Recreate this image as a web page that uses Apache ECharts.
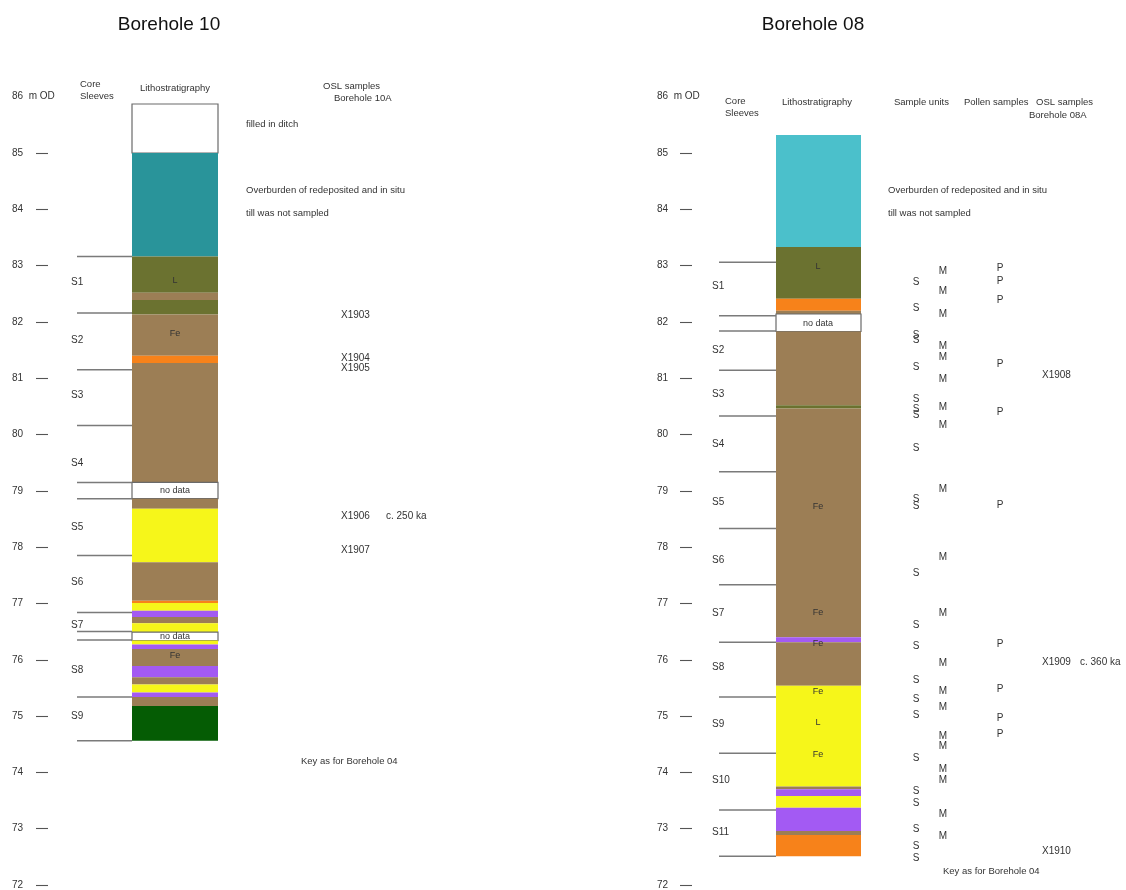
<!DOCTYPE html>
<html>
<head>
<meta charset="utf-8">
<script src="https://cdn.jsdelivr.net/npm/echarts@6/dist/echarts.min.js"></script>
<style>
html, body { margin: 0; padding: 0; background: #ffffff; }
#chart { width: 1126px; height: 890px; }
</style>
</head>
<body>
<div id="chart"></div>
<script>
// ---- Depth scale (m OD) ----
const tickDepths = [72, 73, 74, 75, 76, 77, 78, 79, 80, 81, 82, 83, 84, 85];
const labelDepths = [72, 73, 74, 75, 76, 77, 78, 79, 80, 81, 82, 83, 84, 85, 86];

// ---- Borehole 10: lithostratigraphy (top / base in m OD) ----
const bh10Top  = [85.87, 85.00, 83.16, 82.52, 82.39, 82.13, 81.40, 81.27, 79.15, 78.86, 78.68, 77.73, 77.05, 77.01, 76.87, 76.76, 76.65, 76.49, 76.34, 76.27, 76.19, 75.89, 75.69, 75.56, 75.42, 75.34, 75.18];
const bh10Base = [85.00, 83.16, 82.52, 82.39, 82.13, 81.40, 81.27, 79.15, 78.86, 78.68, 77.73, 77.05, 77.01, 76.87, 76.76, 76.65, 76.49, 76.34, 76.27, 76.19, 75.89, 75.69, 75.56, 75.42, 75.34, 75.18, 74.56];
const bh10Unit = ['blank', 'teal', 'olive', 'brown', 'olive', 'brown', 'orange', 'brown', 'blank', 'brown', 'yellow', 'brown', 'orange', 'yellow', 'violet', 'brown', 'yellow', 'blank', 'yellow', 'violet', 'brown', 'violet', 'brown', 'yellow', 'violet', 'brown', 'green'];
const bh10LithText  = ['L', 'Fe', 'no data', 'no data', 'Fe'];
const bh10LithDepth = [82.74, 81.80, 79.00, 76.42, 76.07];

// core sleeve boundaries and names
const bh10Sleeves = [83.16, 82.16, 81.15, 80.16, 79.15, 78.86, 77.85, 76.84, 76.50, 76.35, 75.34, 74.56];
const bh10SleeveNames = ['S1', 'S2', 'S3', 'S4', 'S5', 'S6', 'S7', 'S8', 'S9'];
const bh10SleeveDepth = [82.70, 81.67, 80.69, 79.49, 78.35, 77.38, 76.62, 75.82, 74.99];

// OSL samples, Borehole 10A
const bh10Osl = ['X1903', 'X1904', 'X1905', 'X1906', 'X1907'];
const bh10OslDepth = [82.11, 81.36, 81.18, 78.55, 77.95];
const bh10Age = ['c. 250 ka'];
const bh10AgeDepth = [78.55];

// notes
const bh10Notes = ['filled in ditch', 'Overburden of redeposited and in situ', 'till was not sampled'];
const bh10NoteDepth = [85.50, 84.34, 83.93];
const bh10Key = ['Key as for Borehole 04'];
const bh10KeyDepth = [74.20];

// ---- Borehole 08: lithostratigraphy ----
const bh08Top  = [85.32, 83.33, 82.41, 82.20, 82.14, 81.83, 80.52, 80.46, 76.40, 76.31, 75.54, 73.75, 73.70, 73.58, 73.37, 72.96, 72.89];
const bh08Base = [83.33, 82.41, 82.20, 82.14, 81.83, 80.52, 80.46, 76.40, 76.31, 75.54, 73.75, 73.70, 73.58, 73.37, 72.96, 72.89, 72.51];
const bh08Unit = ['cyan', 'olive', 'orange', 'brown', 'blank', 'brown', 'olive', 'brown', 'violet', 'brown', 'yellow', 'brown', 'violet', 'yellow', 'violet', 'brown', 'orange'];
const bh08LithText  = ['L', 'no data', 'Fe', 'Fe', 'Fe', 'Fe', 'L', 'Fe'];
const bh08LithDepth = [82.99, 81.98, 78.73, 76.84, 76.28, 75.43, 74.89, 74.31];

const bh08Sleeves = [83.06, 82.11, 81.84, 81.14, 80.33, 79.34, 78.33, 77.33, 76.31, 75.34, 74.34, 73.33, 72.51];
const bh08SleeveNames = ['S1', 'S2', 'S3', 'S4', 'S5', 'S6', 'S7', 'S8', 'S9', 'S10', 'S11'];
const bh08SleeveDepth = [82.63, 81.49, 80.72, 79.83, 78.80, 77.76, 76.83, 75.87, 74.86, 73.86, 72.93];

// sample units (S, M) and pollen samples (P)
const bh08SDepth = [82.70, 82.24, 81.77, 81.68, 81.20, 80.62, 80.44, 80.35, 79.76, 78.85, 78.72, 77.53, 76.61, 76.24, 75.63, 75.30, 75.01, 74.25, 73.66, 73.45, 72.99, 72.69, 72.48];
const bh08MDepth = [82.90, 82.54, 82.14, 81.57, 81.38, 80.98, 80.49, 80.17, 79.03, 77.82, 76.82, 75.93, 75.44, 75.16, 74.64, 74.47, 74.05, 73.86, 73.25, 72.86];
const bh08PDepth = [82.95, 82.72, 82.38, 81.24, 80.39, 78.75, 76.27, 75.47, 74.97, 74.67];

// OSL samples, Borehole 08A
const bh08Osl = ['X1908', 'X1909', 'X1910'];
const bh08OslDepth = [81.06, 75.95, 72.60];
const bh08Age = ['c. 360 ka'];
const bh08AgeDepth = [75.95];

const bh08Notes = ['Overburden of redeposited and in situ', 'till was not sampled'];
const bh08NoteDepth = [84.34, 83.93];
const bh08Key = ['Key as for Borehole 04'];
const bh08KeyDepth = [72.24];

// ---- styling ----
const FONT = '"Liberation Sans", Arial, sans-serif';
const TEXT_COLOR = '#333333';
const unitColor = {
  blank: '#ffffff',
  teal: '#29949a',
  cyan: '#4bc0cb',
  olive: '#6b7230',
  brown: '#9c7e55',
  orange: '#f7821a',
  yellow: '#f6f61a',
  violet: '#a35af3',
  green: '#055c04'
};

const chart = echarts.init(document.getElementById('chart'), null, { renderer: 'canvas' });

function layerSeries(panel, tops, bases, units, x0, x1) {
  return {
    type: 'custom', xAxisIndex: panel, yAxisIndex: panel, silent: true, z: 2,
    data: tops.map((t, i) => [t, bases[i], i]),
    renderItem: (params, api) => {
      const unit = units[api.value(2)];
      const a = api.coord([x0, api.value(0)]);
      const b = api.coord([x1, api.value(1)]);
      const boxed = unit === 'blank';
      return {
        type: 'rect',
        shape: { x: a[0], y: a[1], width: b[0] - a[0], height: b[1] - a[1] },
        style: { fill: unitColor[unit], stroke: boxed ? '#6a6a6a' : null, lineWidth: boxed ? 1.2 : 0 }
      };
    }
  };
}

function lineSeries(panel, depths, x0, x1) {
  return {
    type: 'custom', xAxisIndex: panel, yAxisIndex: panel, silent: true, z: 3,
    data: depths.map(d => [d]),
    renderItem: (params, api) => {
      const a = api.coord([x0, api.value(0)]);
      const b = api.coord([x1, api.value(0)]);
      return {
        type: 'line',
        shape: { x1: a[0], y1: a[1], x2: b[0], y2: b[1] },
        style: { stroke: '#7a7a7a', lineWidth: 1.5 }
      };
    }
  };
}

function textSeries(panel, texts, depths, x, align, size, color) {
  return {
    type: 'custom', xAxisIndex: panel, yAxisIndex: panel, silent: true, z: 5,
    data: depths.map((d, i) => [d, i]),
    renderItem: (params, api) => {
      const p = api.coord([x, api.value(0)]);
      return {
        type: 'text', x: p[0], y: p[1],
        style: {
          text: texts.length === 1 ? texts[0] : texts[api.value(1)],
          fill: color || TEXT_COLOR, fontSize: size || 9.5, fontFamily: FONT,
          align: align, verticalAlign: 'middle'
        }
      };
    }
  };
}

function depthAxis(panel, margin) {
  return {
    type: 'value', gridIndex: panel, min: 72, max: 86, interval: 1,
    axisLine: { show: false },
    splitLine: { show: false },
    axisTick: {
      show: true, length: 12, inside: false, customValues: tickDepths,
      lineStyle: { color: '#555555', width: 1.1 }
    },
    axisLabel: {
      show: true, customValues: labelDepths, align: 'left', margin: margin,
      fontSize: 10, fontFamily: FONT, color: TEXT_COLOR,
      formatter: v => (v === 86 ? '86  m OD' : String(v))
    }
  };
}

function header(text, x, y, align) {
  return {
    type: 'text', x: x, y: y, silent: true,
    style: { text: text, fill: TEXT_COLOR, fontSize: 9.5, fontFamily: FONT, align: align || 'left', verticalAlign: 'middle' }
  };
}

const option = {
  backgroundColor: '#ffffff',
  animation: false,
  title: [
    { text: 'Borehole 10', left: 164, top: 10, textAlign: 'center',
      textStyle: { fontSize: 19, fontWeight: 'normal', color: '#111111', fontFamily: FONT } },
    { text: 'Borehole 08', left: 808, top: 10, textAlign: 'center',
      textStyle: { fontSize: 19, fontWeight: 'normal', color: '#111111', fontFamily: FONT } }
  ],
  grid: [
    { left: 48, top: 96.67, width: 512, height: 788.67 },
    { left: 692, top: 96.67, width: 434, height: 788.67 }
  ],
  xAxis: [
    { type: 'value', gridIndex: 0, min: 48, max: 560, show: false },
    { type: 'value', gridIndex: 1, min: 692, max: 1126, show: false }
  ],
  yAxis: [depthAxis(0, 36), depthAxis(1, 35)],
  graphic: [
    header('Core', 80, 84),
    header('Sleeves', 80, 96),
    header('Lithostratigraphy', 175, 88, 'center'),
    header('OSL samples', 323, 86),
    header('Borehole 10A', 334, 98),
    header('Core', 725, 101),
    header('Sleeves', 725, 113),
    header('Lithostratigraphy', 817, 102, 'center'),
    header('Sample units', 894, 102),
    header('Pollen samples', 964, 102),
    header('OSL samples', 1036, 102),
    header('Borehole 08A', 1029, 115)
  ],
  series: [
    // Borehole 10
    layerSeries(0, bh10Top, bh10Base, bh10Unit, 132, 218),
    lineSeries(0, bh10Sleeves, 77, 132),
    textSeries(0, bh10SleeveNames, bh10SleeveDepth, 71, 'left', 10),
    textSeries(0, bh10LithText, bh10LithDepth, 175, 'center', 9),
    textSeries(0, bh10Osl, bh10OslDepth, 341, 'left', 10),
    textSeries(0, bh10Age, bh10AgeDepth, 386, 'left', 10),
    textSeries(0, bh10Notes, bh10NoteDepth, 246, 'left', 9.5),
    textSeries(0, bh10Key, bh10KeyDepth, 301, 'left', 9.5),
    // Borehole 08
    layerSeries(1, bh08Top, bh08Base, bh08Unit, 776, 861),
    lineSeries(1, bh08Sleeves, 719, 776),
    textSeries(1, bh08SleeveNames, bh08SleeveDepth, 712, 'left', 10),
    textSeries(1, bh08LithText, bh08LithDepth, 818, 'center', 9),
    textSeries(1, ['S'], bh08SDepth, 916, 'center', 10),
    textSeries(1, ['M'], bh08MDepth, 943, 'center', 10),
    textSeries(1, ['P'], bh08PDepth, 1000, 'center', 10),
    textSeries(1, bh08Osl, bh08OslDepth, 1042, 'left', 10),
    textSeries(1, bh08Age, bh08AgeDepth, 1080, 'left', 10),
    textSeries(1, bh08Notes, bh08NoteDepth, 888, 'left', 9.5),
    textSeries(1, bh08Key, bh08KeyDepth, 943, 'left', 9.5)
  ]
};

chart.setOption(option);
</script>
</body>
</html>
